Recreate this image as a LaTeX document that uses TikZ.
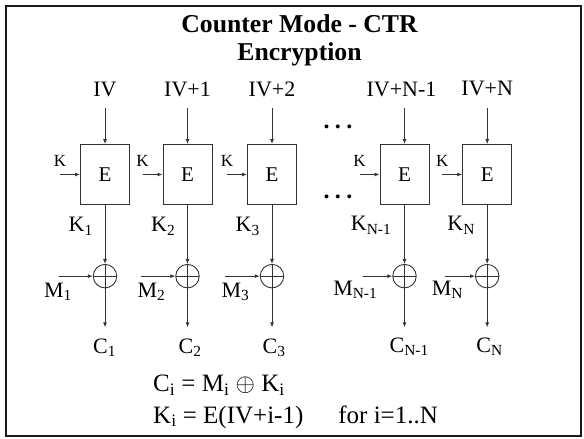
\documentclass[tikz,border=0pt]{standalone}
\usepackage{fontspec}
\setmainfont{Liberation Serif}
\usetikzlibrary{positioning, arrows.meta}

\begin{document}
\begin{tikzpicture}[
                x=1pt, y=-1pt,
                enc/.style={rectangle, draw=black!80, line width=0.9pt, minimum width=49pt, minimum height=60pt, inner sep=0pt, font=\fontsize{21}{24}\selectfont},
                xor/.style={circle, draw=black!80, line width=0.9pt, minimum size=23.5pt, inner sep=0pt,
                    path picture={\draw[black!80, line width=0.9pt] (path picture bounding box.north) -- (path picture bounding box.south) (path picture bounding box.west) -- (path picture bounding box.east);}},
                lbl/.style={inner sep=0pt, font=\fontsize{22}{25}\selectfont},
                eqlbl/.style={inner sep=0pt, font=\fontsize{25}{28}\selectfont},
                keylbl/.style={inner sep=0pt, font=\fontsize{17}{20}\selectfont},
                heading/.style={inner sep=0pt, font=\fontsize{25.7}{28}\selectfont\bfseries},
                ellip/.style={inner sep=0pt, font=\fontsize{24}{26}\selectfont\bfseries},
                arrow/.style={line width=0.9pt, draw=black!80, ->, >={Latex[length=5pt, width=4pt]}},
                slideframe/.style={line width=2pt, draw=black!90}
            ]%
            \useasboundingbox (0,0) rectangle (584,439);
            \draw[slideframe] (6,6) rectangle (581,436);
            %
            % Titulo
            \node[heading, anchor=base] (title) at (299.5,32.7) {Counter Mode - CTR};
            \node[heading, anchor=base] (subtitle) at ([yshift=-27.3pt]title.base) {Encryption};
            %
            % === Bloques E ===
            \node[enc] (e1) at (105,174.5) {E};
            \node[enc, right=32.6pt of e1] (e2) {E};
            \node[enc, right=34.6pt of e2] (e3) {E};
            \node[enc, right=82.6pt of e3] (e4) {E};
            \node[enc, right=32.8pt of e4] (e5) {E};
            \node[ellip] (dotsup) at (338,127.3) {.\hspace{5.3pt}.\hspace{5.3pt}.};
            \node[ellip] (dotsdown) at (338,197.3) {.\hspace{5.3pt}.\hspace{5.3pt}.};
            %
            % === Contadores ===
            \node[lbl, above=47pt of e1] (iv1) {IV};
            \node[lbl, above=47pt of e2] (iv2) {IV+1};
            \node[lbl, above=47pt of e3] (iv3) {IV+2};
            \node[lbl, above=47pt of e4, xshift=-3pt] (iv4) {IV+N-1};
            \node[lbl, above=48pt of e5] (iv5) {IV+N};
            \draw[arrow] ([yshift=-11pt]iv1.south) -- (e1.north);
            \draw[arrow] ([yshift=-11pt]iv2.south) -- (e2.north);
            \draw[arrow] ([yshift=-11pt]iv3.south) -- (e3.north);
            \draw[arrow] ([xshift=3pt, yshift=-11pt]iv4.south) -- (e4.north);
            \draw[arrow] ([yshift=-12pt]iv5.south) -- (e5.north);
            %
            % === Clave K ===
            \coordinate[left=20pt of e1.west] (k1);
            \coordinate[left=20pt of e2.west] (k2);
            \coordinate[left=20pt of e3.west] (k3);
            \coordinate[left=20pt of e4.west] (k4);
            \coordinate[left=20pt of e5.west] (k5);
            \node[keylbl, above=8pt of k1] (kl1) {K};
            \node[keylbl, above=8pt of k2] (kl2) {K};
            \node[keylbl, above=8pt of k3] (kl3) {K};
            \node[keylbl, above=8pt of k4] (kl4) {K};
            \node[keylbl, above=8pt of k5] (kl5) {K};
            \draw[arrow] (k1) -- (e1.west);
            \draw[arrow] (k2) -- (e2.west);
            \draw[arrow] (k3) -- (e3.west);
            \draw[arrow] (k4) -- (e4.west);
            \draw[arrow] (k5) -- (e5.west);
            %
            % === Flujo de clave ===
            \node[lbl, anchor=base east] (ks1) at ([xshift=-12pt, yshift=-27pt]e1.south) {K\textsubscript{1}};
            \node[lbl, anchor=base east] (ks2) at ([xshift=-12pt, yshift=-27pt]e2.south) {K\textsubscript{2}};
            \node[lbl, anchor=base east] (ks3) at ([xshift=-12pt, yshift=-27pt]e3.south) {K\textsubscript{3}};
            \node[lbl, anchor=base east] (ks4) at ([xshift=-13pt, yshift=-26pt]e4.south) {K\textsubscript{N-1}};
            \node[lbl, anchor=base east] (ks5) at ([xshift=-12pt, yshift=-26pt]e5.south) {K\textsubscript{N}};
            %
            % === XOR ===
            \node[xor, below=59pt of e1] (x1) {};
            \node[xor, below=59pt of e2] (x2) {};
            \node[xor, below=59pt of e3] (x3) {};
            \node[xor, below=59pt of e4] (x4) {};
            \node[xor, below=59pt of e5] (x5) {};
            \draw[arrow] (e1.south) -- (x1.north);
            \draw[arrow] (e2.south) -- (x2.north);
            \draw[arrow] (e3.south) -- (x3.north);
            \draw[arrow] (e4.south) -- (x4.north);
            \draw[arrow] (e5.south) -- (x5.north);
            %
            % === Texto claro M ===
            \coordinate[left=34pt of x1.west] (m1);
            \coordinate[left=34pt of x2.west] (m2);
            \coordinate[left=35pt of x3.west] (m3);
            \coordinate[left=29.5pt of x4.west] (m4);
            \coordinate[left=30.5pt of x5.west] (m5);
            \draw[arrow] (m1) -- (x1.west);
            \draw[arrow] (m2) -- (x2.west);
            \draw[arrow] (m3) -- (x3.west);
            \draw[arrow] (m4) -- (x4.west);
            \draw[arrow] (m5) -- (x5.west);
            \node[lbl, anchor=base east] (ml1) at ([xshift=-33pt, yshift=-21.5pt]x1.center) {M\textsubscript{1}};
            \node[lbl, anchor=base east] (ml2) at ([xshift=-22pt, yshift=-21.5pt]x2.center) {M\textsubscript{2}};
            \node[lbl, anchor=base east] (ml3) at ([xshift=-22.5pt, yshift=-21.5pt]x3.center) {M\textsubscript{3}};
            \node[lbl, anchor=base east] (ml4) at ([xshift=-27pt, yshift=-19pt]x4.center) {M\textsubscript{N-1}};
            \node[lbl, anchor=base east] (ml5) at ([xshift=-24pt, yshift=-19pt]x5.center) {M\textsubscript{N}};
            %
            % === Texto cifrado C ===
            \coordinate[below=39pt of x1.south] (co1);
            \coordinate[below=39pt of x2.south] (co2);
            \coordinate[below=39pt of x3.south] (co3);
            \coordinate[below=39pt of x4.south] (co4);
            \coordinate[below=39pt of x5.south] (co5);
            \draw[arrow] (x1.south) -- (co1);
            \draw[arrow] (x2.south) -- (co2);
            \draw[arrow] (x3.south) -- (co3);
            \draw[arrow] (x4.south) -- (co4);
            \draw[arrow] (x5.south) -- (co5);
            \node[lbl, anchor=base west] (c1) at ([xshift=-12pt, yshift=-77.5pt]x1.center) {C\textsubscript{1}};
            \node[lbl, anchor=base west] (c2) at ([xshift=-9pt, yshift=-77.5pt]x2.center) {C\textsubscript{2}};
            \node[lbl, anchor=base west] (c3) at ([xshift=-9.5pt, yshift=-77.5pt]x3.center) {C\textsubscript{3}};
            \node[lbl, anchor=base west] (c4) at ([xshift=-15pt, yshift=-76pt]x4.center) {C\textsubscript{N-1}};
            \node[lbl, anchor=base west] (c5) at ([xshift=-11pt, yshift=-76pt]x5.center) {C\textsubscript{N}};
            %
            % Ecuaciones
            \node[eqlbl, anchor=base west] (eqc) at (153,391.5) {C\textsubscript{i} = M\textsubscript{i} $\oplus$ K\textsubscript{i}};
            \node[eqlbl, anchor=base west] (eqk) at ([yshift=-31.5pt]eqc.base west) {K\textsubscript{i} = E(IV+i-1)\hspace{35pt}for i=1..N};
        \end{tikzpicture}
\end{document}
